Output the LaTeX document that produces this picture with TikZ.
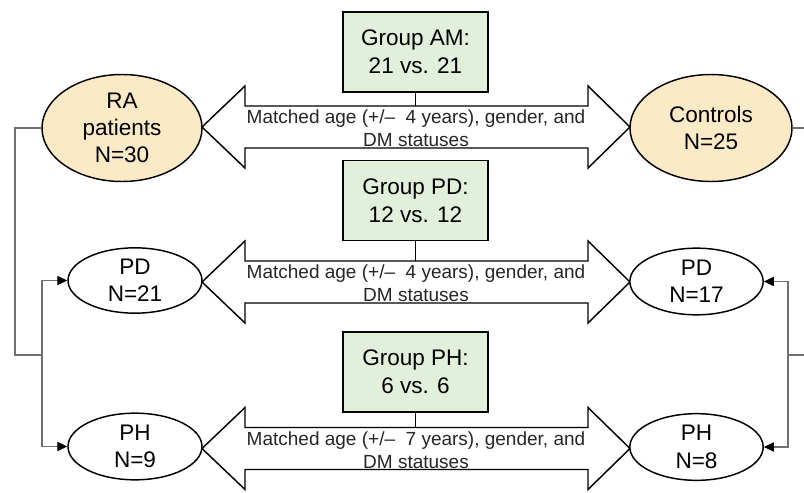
\documentclass[tikz,border=0pt]{standalone}
\usepackage{fontspec}
\setmainfont{Liberation Sans}
\usetikzlibrary{shapes.geometric,arrows.meta}
\definecolor{ellfill}{HTML}{FCEAC6}
\definecolor{boxfill}{HTML}{E2EFDA}
\definecolor{connc}{HTML}{707070}
\newcommand\blkarrow[2]{%
  \draw[blk] (202,#1) -- (245,{#1-41}) -- (245,{#1-21}) -- (588,{#1-21}) -- (588,{#1-41})
     -- (630,#1) -- (588,{#1+41}) -- (588,{#1+21}) -- (245,{#1+21}) -- (245,{#1+41}) -- cycle;
  \coordinate (#2) at (415.5,{#1-21});
}
\begin{document}
\begin{tikzpicture}[x=0.75pt,y=-0.75pt,
 ell/.style={ellipse,draw=black,line width=1.1pt,align=center,inner sep=0pt,font=\fontsize{16.9}{20.5}\selectfont},
 grp/.style={rectangle,draw=black,line width=1.1pt,fill=boxfill,align=center,minimum width=108.75pt,minimum height=60pt,inner sep=0pt,font=\fontsize{16.9}{21}\selectfont},
 blk/.style={draw=black,line width=1.1pt,fill=white,line join=miter},
 lbl/.style={align=center,font=\fontsize{14.25}{17}\selectfont,text=black!85,inner sep=0pt},
 conn/.style={draw=connc,line width=0.8pt},
 tip/.style={-{Triangle[length=7.5pt,width=7pt,color=black]}},
 stem/.style={draw=black,line width=1.1pt},
]
\useasboundingbox (0,0) rectangle (804,493);

% block arrows
\blkarrow{127}{a1top}
\blkarrow{282}{a2top}
\blkarrow{448.5}{a3top}

\node[lbl] (t1) at (416,128.5) {Matched age (+/–\ \ 4 years), gender, and\\DM statuses};
\node[lbl] (t2) at (416,283.5) {Matched age (+/–\ \ 4 years), gender, and\\DM statuses};
\node[lbl] (t3) at (416,450) {Matched age (+/–\ \ 7 years), gender, and\\DM statuses};

% ellipses
\node[ell,fill=ellfill,minimum width=120pt,minimum height=80.25pt] (ra) at (122,128) {RA\\patients\\N=30};
\node[ell,fill=ellfill,minimum width=121.5pt,minimum height=80.25pt] (ctrl) at (711,128) {Controls\\N=25};
\node[ell,fill=white,minimum width=100.5pt,minimum height=49pt] (pdL) at (135,280.5) {PD\\N=21};
\node[ell,fill=white,minimum width=100.5pt,minimum height=50pt] (phL) at (135,446.5) {PH\\N=9};
\node[ell,fill=white,minimum width=100pt,minimum height=50pt] (pdR) at (696.5,281.5) {PD\\N=17};
\node[ell,fill=white,minimum width=100pt,minimum height=50pt] (phR) at (696.5,447) {PH\\N=8};

% group boxes
\node[grp] (gam) at (415.5,52) {Group AM:\\21 vs. 21};
\node[grp] (gpd) at (415.5,200.5) {Group PD:\\12 vs. 12};
\node[grp] (gph) at (415.5,372) {Group PH:\\6 vs. 6};

\draw[stem] (gam.south) -- (a1top);
\draw[stem] (gpd.south) -- (a2top);
\draw[stem] (gph.south) -- (a3top);

% left connectors
\coordinate (lbend) at (15,355);
\coordinate (jL) at (42,355);
\draw[conn] (ra.west) -| (lbend) -- (jL);
\draw[conn,tip] (jL) |- (pdL.west);
\draw[conn,tip] (jL) |- (phL.west);

% right connectors
\coordinate (rEdge1) at (804,128);
\coordinate (rEdge2) at (804,355);
\coordinate (jR) at (788,355);
\draw[conn] (ctrl.east) -- (rEdge1);
\draw[conn] (rEdge2) -- (jR);
\draw[conn,tip] (jR) |- (pdR.east);
\draw[conn,tip] (jR) |- (phR.east);
\end{tikzpicture}
\end{document}
